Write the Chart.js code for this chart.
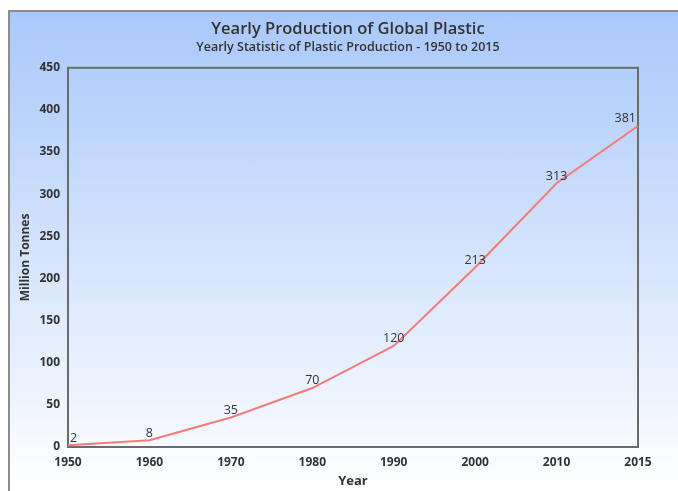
<!DOCTYPE html>
<html>
<head>
<meta charset="utf-8">
<script src="https://cdn.jsdelivr.net/npm/chart.js@4.4.1/dist/chart.umd.min.js"></script>
<style>
  body { margin: 0; background: #fff; overflow: hidden; }
  #card {
    position: absolute; left: 8px; top: 10px; width: 700px; height: 500px;
    border-left: 2px solid #8c8c8c; border-top: 2px solid #8c8c8c;
    background: linear-gradient(to bottom, #a9c8fa 0%, #ffffff 96%);
  }
  #wrap { position: absolute; left: 0; top: 0; width: 678px; height: 491px; }
</style>
</head>
<body>
<div id="card"></div>
<div id="wrap"><canvas id="chart"></canvas></div>
<script>
const years = ['1950', '1960', '1970', '1980', '1990', '2000', '2010', '2015'];
const production = [2, 8, 35, 70, 120, 213, 313, 381];
const yMin = 0, yMax = 450, yStep = 50;

const textColor = '#333333';
const fontFamily = "'Open Sans', 'Noto Sans', sans-serif";

// box around the plot area
const plotBox = {
    id: 'plotBox',
    beforeDatasetsDraw(chart) {
        const { ctx, chartArea: a } = chart;
        ctx.save();
        ctx.strokeStyle = '#6b6b6b';
        ctx.lineWidth = 2;
        ctx.strokeRect(a.left, a.top, a.right - a.left, a.bottom - a.top);
        ctx.restore();
    }
};

// value labels above each point, kept inside the plot area
const valueLabels = {
    id: 'valueLabels',
    afterDatasetsDraw(chart) {
        const { ctx, chartArea: a } = chart;
        const meta = chart.getDatasetMeta(0);
        ctx.save();
        ctx.font = '500 12.5px ' + fontFamily;
        ctx.fillStyle = textColor;
        ctx.textBaseline = 'bottom';
        ctx.textAlign = 'left';
        meta.data.forEach((pt, i) => {
            const txt = String(production[i]);
            const w = ctx.measureText(txt).width;
            let x = pt.x - w / 2;
            x = Math.max(a.left + 2, Math.min(a.right - 2 - w, x));
            ctx.fillText(txt, x, pt.y - 1);
        });
        ctx.restore();
    }
};

new Chart(document.getElementById('chart'), {
    type: 'line',
    data: {
        labels: years,
        datasets: [{
            label: 'Million Tonnes',
            data: production,
            borderColor: '#f57b7b',
            borderWidth: 2,
            pointRadius: 0,
            tension: 0,
            fill: false
        }]
    },
    options: {
        responsive: true,
        maintainAspectRatio: false,
        animation: false,
        layout: { padding: { left: 18, top: 0, right: 0, bottom: 2 } },
        plugins: {
            legend: { display: false },
            tooltip: { enabled: false },
            title: {
                display: true,
                text: 'Yearly Production of Global Plastic',
                color: textColor,
                font: { family: fontFamily, size: 16.5, weight: '600' },
                padding: { top: 19, bottom: 1 }
            },
            subtitle: {
                display: true,
                text: 'Yearly Statistic of Plastic Production - 1950 to 2015',
                color: textColor,
                font: { family: fontFamily, size: 12.5, weight: '600' },
                padding: { top: 0, bottom: 13 }
            }
        },
        scales: {
            x: {
                grid: { display: false, drawTicks: false },
                border: { display: false },
                ticks: {
                    color: textColor,
                    font: { family: fontFamily, size: 12, weight: 'bold' },
                    padding: 8,
                    maxRotation: 0,
                    autoSkip: false
                },
                title: {
                    display: true,
                    text: 'Year',
                    color: textColor,
                    font: { family: fontFamily, size: 13, weight: 'bold' },
                    padding: { top: 0, bottom: 0 }
                },
                afterFit(scale) { scale.height = 42; }
            },
            y: {
                min: yMin,
                max: yMax,
                grid: { display: false, drawTicks: false },
                border: { display: false },
                ticks: {
                    stepSize: yStep,
                    color: textColor,
                    font: { family: fontFamily, size: 12, weight: 'bold' },
                    padding: 8
                },
                title: {
                    display: true,
                    text: 'Million Tonnes',
                    color: textColor,
                    font: { family: fontFamily, size: 12, weight: 'bold' },
                    padding: { top: 0, bottom: 0 }
                },
                afterFit(scale) { scale.width = 50; }
            },
            yRight: {
                position: 'right',
                grid: { display: false, drawTicks: false },
                border: { display: false },
                ticks: { display: false },
                afterFit(scale) { scale.width = 40; }
            }
        }
    },
    plugins: [plotBox, valueLabels]
});
</script>
</body>
</html>
